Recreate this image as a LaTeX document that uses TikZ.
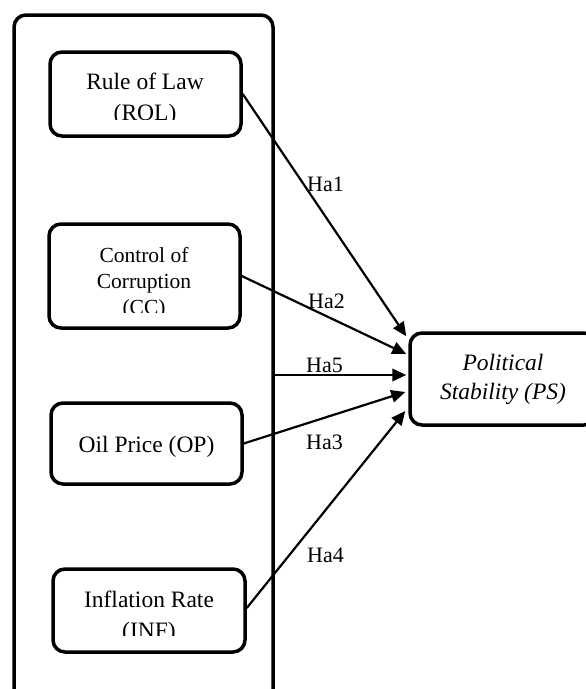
\documentclass[tikz,border=0pt]{standalone}
\usepackage{fontspec}
\setmainfont{Liberation Serif}
\usetikzlibrary{arrows.meta,calc}
\begin{document}
\begin{tikzpicture}[x=1pt,y=-1pt,
  box/.style={draw, line width=3.5pt, rounded corners=12pt, inner sep=0pt},
  lbl/.style={font=\fontsize{22}{26}\selectfont, anchor=base west, inner sep=0pt},
  txt/.style={font=\fontsize{23.5}{28}\selectfont, anchor=base, inner sep=0pt},
  stxt/.style={font=\fontsize{21.5}{26}\selectfont, anchor=base, inner sep=0pt},
  link/.style={line width=2.2pt, -{Triangle[length=14pt,width=12.5pt]}}]
\useasboundingbox (0,0) rectangle (586,689);
\clip (0,0) rectangle (586,689);
% outer box
\node[box, minimum width=259pt, minimum height=705pt] (outer) at (143.5,367.5) {};
% boxes
\node[box, minimum width=191pt, minimum height=84pt] (rol) at (145.5,94) {};
\node[box, minimum width=191pt, minimum height=104pt] (cc) at (144.5,276) {};
\node[box, minimum width=191pt, minimum height=81pt] (op) at (146.5,443.5) {};
\node[box, minimum width=192pt, minimum height=83pt] (inf) at (149,610.5) {};
\node[box, minimum width=186pt, minimum height=92pt] (ps) at (503,379) {};
% texts
\begin{scope}
  \clip (50,52) rectangle (241,119);
  \node[txt] (rol1) at (145,89) {Rule of Law};
  \node[txt] (rol2) at (145,120) {(ROL)};
\end{scope}
\begin{scope}
  \clip (49,224) rectangle (240,312);
  \node[stxt] (cc1) at (144,262) {Control of};
  \node[stxt] (cc2) at (144,288) {Corruption};
  \node[stxt] (cc3) at (144,314) {(CC)};
\end{scope}
\node[txt] (op1) at (146.5,452) {Oil Price (OP)};
\begin{scope}
  \clip (53,569) rectangle (245,635);
  \node[txt] (inf1) at (149,607) {Inflation Rate};
  \node[txt] (inf2) at (149,638) {(INF)};
\end{scope}
\node[txt, font=\fontsize{23.5}{28}\selectfont\itshape] (ps1) at (503,370) {Political};
\node[txt, font=\fontsize{23.5}{28}\selectfont\itshape] (ps2) at (503,399) {Stability (PS)};
% connectors
\coordinate (h5) at ($(outer.east |- ps.west)+(0,-4)$);
\draw[link] (rol.east) -- ($(ps.north west)+(-2,5)$);
\draw[link] (cc.east) -- ($(ps.west)+(-2,-25)$);
\draw[link] (h5) -- ($(ps.west)+(-2,-4)$);
\draw[link] (op.east) -- ($(ps.west)+(-3,13)$);
\draw[link] ($(inf.east)+(0,-2.5)$) -- ($(ps.west)+(-3,32)$);
% labels
\node[lbl] (ha1) at (307,191) {Ha1};
\node[lbl] (ha2) at (308,308) {Ha2};
\node[lbl] (ha5) at (306,372) {Ha5};
\node[lbl] (ha3) at (306,449) {Ha3};
\node[lbl] (ha4) at (307,562) {Ha4};
\end{tikzpicture}
\end{document}
